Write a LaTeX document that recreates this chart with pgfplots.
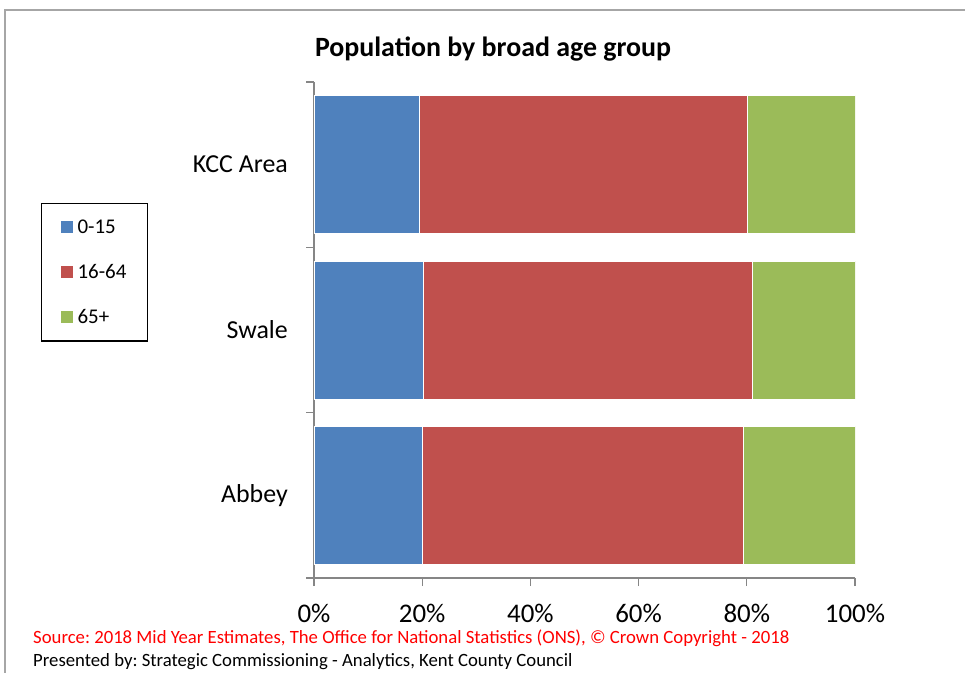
\documentclass[border=0pt]{standalone}
\usepackage{pgfplots}
\pgfplotsset{compat=1.18}
\usepackage{fontspec}
\setmainfont{Carlito}
\frenchspacing
\definecolor{cYoung}{HTML}{4F81BD}
\definecolor{cWork}{HTML}{C0504D}
\definecolor{cOld}{HTML}{9BBB59}
\definecolor{axisgray}{HTML}{868686}
\definecolor{framegray}{HTML}{A6A6A6}
\begin{document}
\begin{tikzpicture}
\path[use as bounding box] (0bp,0bp) rectangle (965bp,-673bp);
\draw[framegray, line width=1.5bp] (5bp,-673bp) -- (5bp,-10bp) -- (965bp,-10bp);
\node[font=\bfseries\fontsize{28}{32}\selectfont] at (493bp,-49bp) {Population by broad age group};
\begin{axis}[
  at={(314bp,-578bp)}, anchor=south west,
  scale only axis, width=541bp, height=496bp,
  xbar stacked, bar width=138bp,
  xmin=0, xmax=100, ymin=-0.5, ymax=2.5,
  axis lines*=left,
  axis line style={draw=axisgray, line width=1.3bp, -},
  tick align=outside, major tick length=8bp,
  tick style={draw=axisgray, line width=1.2bp},
  xtick={0,20,...,100},
  xticklabel={\pgfmathprintnumber{\tick}\%},
  xticklabel style={font=\fontsize{27}{30}\selectfont, yshift=-15bp},
  ytick={-0.5,0.5,1.5,2.5}, yticklabels={},
  extra y ticks={0,1,2},
  extra y tick labels={Abbey,Swale,KCC Area},
  extra y tick style={major tick length=0pt,
    yticklabel style={font=\fontsize{26}{29}\selectfont, inner xsep=0pt, xshift=-26bp}},
  /pgf/number format/assume math mode=true,
  legend style={at={(-0.5046,0.756)}, anchor=north west, draw=black, line width=1.2bp,
    font=\fontsize{21}{23}\selectfont, row sep=25.5bp, inner xsep=19bp, inner ysep=14bp},
  legend cell align=left,
  legend image code/.code={%
    \fill[#1,draw=none] (0bp,-6bp) rectangle (12bp,6bp);
    \path[draw=none,fill=none] (0bp,0bp) -- (15bp,0bp);},
]
\addplot[fill=cYoung, draw=white, line width=0.5bp] coordinates {(19.5,2) (20.2,1) (20.1,0)};
\addplot[fill=cWork, draw=white, line width=0.5bp] coordinates {(60.5,2) (60.8,1) (59.2,0)};
\addplot[fill=cOld, draw=white, line width=0.5bp] coordinates {(20.0,2) (19.0,1) (20.7,0)};
\legend{0-15,16-64,65+}
\end{axis}
\node[anchor=west, text=red, font=\fontsize{18.8}{21}\selectfont, inner sep=0pt] at (33bp,-638bp)
  {Source: 2018 Mid Year Estimates, The Office for National Statistics (ONS), © Crown Copyright - 2018};
\node[anchor=west, font=\fontsize{18.8}{21}\selectfont, inner sep=0pt] at (33bp,-662bp)
  {Presented by: Strategic Commissioning - Analytics, Kent County Council};
\end{tikzpicture}
\end{document}
